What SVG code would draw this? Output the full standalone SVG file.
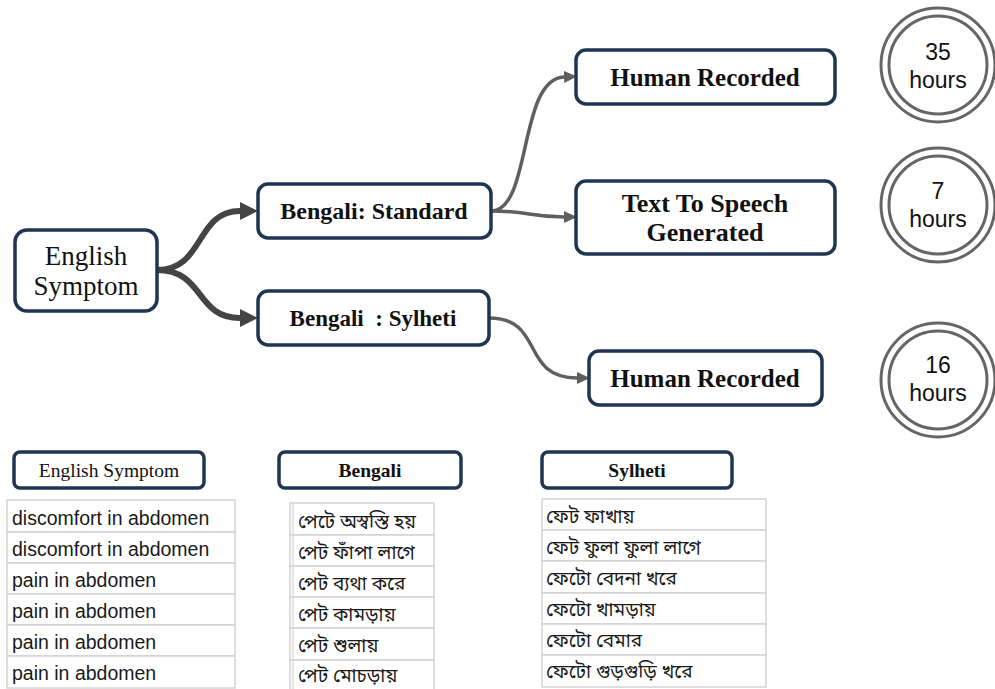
<svg xmlns="http://www.w3.org/2000/svg" width="995" height="689" viewBox="0 0 995 689">
<style>
.node{fill:#fff;stroke:#1f3552;stroke-width:3.5}
.t{font-family:"Liberation Serif","DejaVu Serif",serif;fill:#111;text-anchor:middle}
.b{font-weight:bold;font-size:25px}
.circ{fill:none;stroke:#666;stroke-width:3}
.ct{font-family:"Liberation Sans",Arial,sans-serif;font-size:23px;fill:#111;text-anchor:middle}
.cell{fill:#fff;stroke:#d4d4d4;stroke-width:1.5}
.en{font-family:"Liberation Sans",Arial,sans-serif;font-size:19.5px;fill:#1a1a1a}
.bn{font-family:"Noto Sans Bengali","Noto Serif Bengali","Lohit Bengali","Mukti","Vrinda",sans-serif;font-size:19px;fill:#1a1a1a}
.c1{fill:none;stroke:#444;stroke-width:6}
.c2{fill:none;stroke:#5f5f5f;stroke-width:3.5}
</style>
<defs>
<marker id="a1" markerUnits="userSpaceOnUse" markerWidth="20" markerHeight="20" refX="0" refY="10" orient="auto" viewBox="0 0 20 20">
<path d="M0,1 L18,10 L0,19 Z" fill="#444"/>
</marker>
<marker id="a2" markerUnits="userSpaceOnUse" markerWidth="14" markerHeight="14" refX="0" refY="7" orient="auto" viewBox="0 0 14 14">
<path d="M0,1 L13,7 L0,13 Z" fill="#5f5f5f"/>
</marker>
</defs>

<g id="connectors">
<path class="c1" d="M157,270 C205,270 195,211 240,211" marker-end="url(#a1)"/>
<path class="c1" d="M157,270 C205,270 195,318 240,318" marker-end="url(#a1)"/>
<path class="c2" d="M491,211 C532,211 518,79 564,77" marker-end="url(#a2)"/>
<path class="c2" d="M491,211 C530,211 528,217 564,217" marker-end="url(#a2)"/>
<path class="c2" d="M489,318 C545,318 520,378 577,378" marker-end="url(#a2)"/>
</g>

<g id="english-symptom">
<rect class="node" x="15" y="230" width="142" height="81" rx="12"/>
<text class="t" x="86" y="265" font-size="27">English</text>
<text class="t" x="86" y="295" font-size="27">Symptom</text>
</g>
<g id="bengali-standard">
<rect class="node" x="258" y="184" width="233" height="54" rx="10"/>
<text class="t b" x="374" y="219" style="font-size:24px">Bengali: Standard</text>
</g>
<g id="bengali-sylheti">
<rect class="node" x="258" y="291" width="231" height="54" rx="10"/>
<text class="t b" x="373" y="326" style="font-size:23px">Bengali&#160; : Sylheti</text>
</g>
<g id="human-recorded-1">
<rect class="node" x="576" y="50" width="259" height="54" rx="10"/>
<text class="t b" x="705" y="86">Human Recorded</text>
</g>
<g id="tts-generated">
<rect class="node" x="576" y="181" width="259" height="73" rx="10"/>
<text class="t b" x="705" y="212" style="font-size:26px">Text To Speech</text>
<text class="t b" x="705" y="241" style="font-size:26px">Generated</text>
</g>
<g id="human-recorded-2">
<rect class="node" x="589" y="351" width="233" height="54" rx="10"/>
<text class="t b" x="705" y="387">Human Recorded</text>
</g>

<g id="hours-35">
<circle class="circ" cx="938" cy="65" r="57"/>
<circle class="circ" cx="938" cy="65" r="49"/>
<text class="ct" x="938" y="60">35</text>
<text class="ct" x="938" y="88">hours</text>
</g>
<g id="hours-7">
<circle class="circ" cx="938" cy="205" r="57"/>
<circle class="circ" cx="938" cy="205" r="49"/>
<text class="ct" x="938" y="199">7</text>
<text class="ct" x="938" y="227">hours</text>
</g>
<g id="hours-16">
<circle class="circ" cx="938" cy="380" r="57"/>
<circle class="circ" cx="938" cy="380" r="49"/>
<text class="ct" x="938" y="373">16</text>
<text class="ct" x="938" y="401">hours</text>
</g>

<g id="header-english">
<rect class="node" x="14" y="452" width="190" height="36" rx="6"/>
<text class="t" x="109" y="477" font-size="19.5">English Symptom</text>
</g>
<g id="header-bengali">
<rect class="node" x="279" y="452" width="182" height="36" rx="6"/>
<text class="t" x="370" y="477" font-size="19.5" font-weight="bold">Bengali</text>
</g>
<g id="header-sylheti">
<rect class="node" x="542" y="452" width="190" height="36" rx="6"/>
<text class="t" x="637" y="477" font-size="19.5" font-weight="bold">Sylheti</text>
</g>

<g id="table-english">
<rect class="cell" x="7" y="500" width="228" height="32"/>
<rect class="cell" x="7" y="532" width="228" height="31"/>
<rect class="cell" x="7" y="563" width="228" height="31"/>
<rect class="cell" x="7" y="594" width="228" height="31"/>
<rect class="cell" x="7" y="625" width="228" height="31"/>
<rect class="cell" x="7" y="656" width="228" height="32"/>
<text class="en" x="12" y="525">discomfort in abdomen</text>
<text class="en" x="12" y="556">discomfort in abdomen</text>
<text class="en" x="12" y="587">pain in abdomen</text>
<text class="en" x="12" y="618">pain in abdomen</text>
<text class="en" x="12" y="649">pain in abdomen</text>
<text class="en" x="12" y="680">pain in abdomen</text>
</g>
<g id="table-bengali">
<rect class="cell" x="290" y="503" width="144" height="32"/>
<rect class="cell" x="290" y="535" width="144" height="31"/>
<rect class="cell" x="290" y="566" width="144" height="31"/>
<rect class="cell" x="290" y="597" width="144" height="31"/>
<rect class="cell" x="290" y="628" width="144" height="32"/>
<rect class="cell" x="290" y="660" width="144" height="32"/>
<line x1="293" y1="503" x2="293" y2="689" stroke="#d4d4d4" stroke-width="1.2"/>
<text class="bn" x="298" y="528">পেটে অস্বস্তি হয়</text>
<text class="bn" x="298" y="559">পেট ফাঁপা লাগে</text>
<text class="bn" x="298" y="590">পেট ব্যথা করে</text>
<text class="bn" x="298" y="621">পেট কামড়ায়</text>
<text class="bn" x="298" y="652">পেট শুলায়</text>
<text class="bn" x="298" y="682">পেট মোচড়ায়</text>
</g>
<g id="table-sylheti">
<rect class="cell" x="542" y="499" width="224" height="31"/>
<rect class="cell" x="542" y="530" width="224" height="31"/>
<rect class="cell" x="542" y="561" width="224" height="32"/>
<rect class="cell" x="542" y="593" width="224" height="31"/>
<rect class="cell" x="542" y="624" width="224" height="31"/>
<rect class="cell" x="542" y="655" width="224" height="32"/>
<text class="bn" x="546" y="523">ফেট ফাখায়</text>
<text class="bn" x="546" y="554">ফেট ফুলা ফুলা লাগে</text>
<text class="bn" x="546" y="585">ফেটো বেদনা খরে</text>
<text class="bn" x="546" y="616">ফেটো খামড়ায়</text>
<text class="bn" x="546" y="647">ফেটো বেমার</text>
<text class="bn" x="546" y="678">ফেটো গুড়গুড়ি খরে</text>
</g>
</svg>
